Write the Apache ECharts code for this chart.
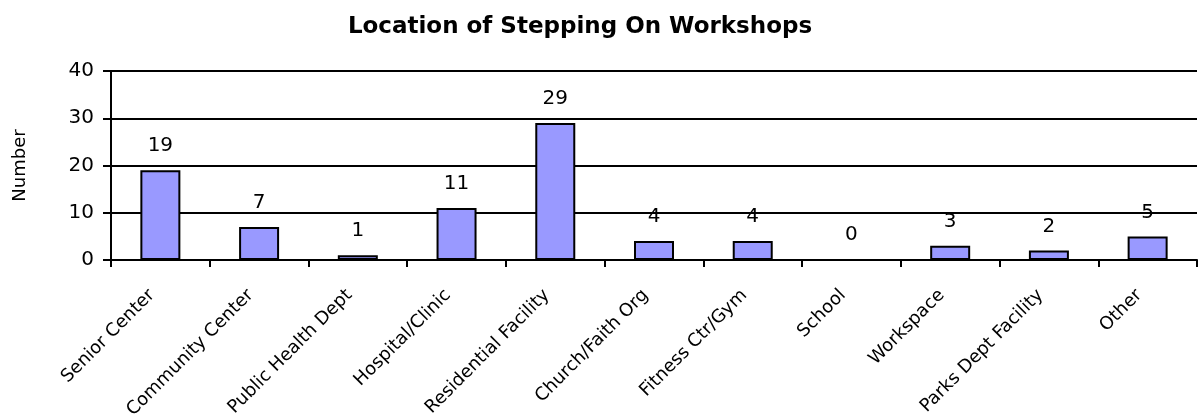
<!DOCTYPE html>
<html>
<head>
<meta charset="utf-8">
<script src="https://cdn.jsdelivr.net/npm/echarts@6/dist/echarts.min.js"></script>
<style>
  html, body { margin: 0; padding: 0; background: #fff; }
  #main { width: 1198px; height: 417px; }
</style>
</head>
<body>
<div id="main"></div>
<script>
var chartDom = document.getElementById('main');
var myChart = echarts.init(chartDom);

var categories = ['Senior Center', 'Community Center', 'Public Health Dept', 'Hospital/Clinic',
  'Residential Facility', 'Church/Faith Org', 'Fitness Ctr/Gym', 'School', 'Workspace',
  'Parks Dept Facility', 'Other'];
var counts = [19, 7, 1, 11, 29, 4, 4, 0, 3, 2, 5];
var yTicks = [0, 10, 20, 30, 40];

// wide font to mimic the horizontally stretched Excel text
var font = '"DejaVu Sans", "Liberation Sans", sans-serif';

var option = {
  animation: false,
  title: {
    text: 'Location of Stepping On Workshops',
    left: 575,
    textAlign: 'center',
    top: 11,
    textStyle: { fontFamily: font, fontSize: 23, fontWeight: 'bold', color: '#000' }
  },
  grid: { left: 111, right: 1, top: 71, bottom: 157, outerBoundsMode: 'none', containLabel: false },
  xAxis: {
    type: 'category',
    data: categories,
    axisLine: { lineStyle: { color: '#000', width: 2 } },
    axisTick: { show: true, length: 7, lineStyle: { color: '#000', width: 2 } },
    axisLabel: {
      rotate: 45, margin: 24, interval: 0, padding: [0, 12, 0, 0],
      fontFamily: font, fontSize: 18, color: '#000'
    }
  },
  yAxis: {
    type: 'value',
    min: yTicks[0],
    max: yTicks[yTicks.length - 1],
    interval: 10,
    name: 'Number',
    nameLocation: 'middle',
    nameGap: 82,
    nameTextStyle: { fontFamily: font, fontSize: 18, color: '#000' },
    axisLine: { show: true, lineStyle: { color: '#000', width: 2 } },
    axisTick: { show: true, length: 8, lineStyle: { color: '#000', width: 2 } },
    axisLabel: { margin: 17, fontFamily: font, fontSize: 20, color: '#000' },
    splitLine: { show: true, lineStyle: { color: '#000', width: 2 } }
  },
  series: [{
    type: 'bar',
    data: counts,
    barWidth: 40,
    itemStyle: { color: '#9999FF', borderColor: '#000', borderWidth: 2 },
    label: {
      show: true, position: 'top', distance: 14,
      fontFamily: font, fontSize: 20, color: '#000'
    }
  }]
};
myChart.setOption(option);
</script>
</body>
</html>
